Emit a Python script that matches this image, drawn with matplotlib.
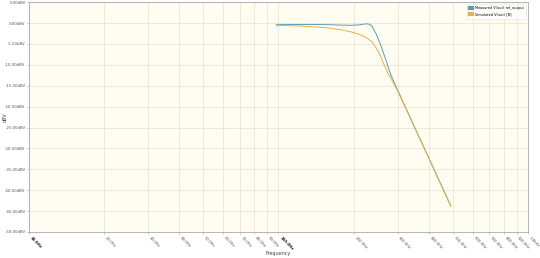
import numpy as np
import matplotlib
matplotlib.use("Agg")
import matplotlib.pyplot as plt
from matplotlib.ticker import FixedLocator, NullLocator

# Respuesta en frecuencia
freq_a = [98, 120, 140, 160, 177, 195, 210, 224, 232, 238, 248, 257, 270, 282,
          300, 330, 360, 400, 440, 490]
dbv_a = [-0.4, -0.35, -0.35, -0.4, -0.5, -0.55, -0.45, -0.2, -0.3, -0.9, -3.0,
         -5.3, -9.0, -12.4, -16.0, -21.4, -26.3, -32.2, -37.6, -43.7]

freq_b = [98, 120, 147, 160, 177, 195, 213, 225, 238, 249, 257, 264, 277,
          300, 330, 360, 400, 440, 490]
dbv_b = [-0.55, -0.7, -1.0, -1.2, -1.6, -2.1, -2.8, -3.5, -4.6, -6.5, -8.0,
         -9.8, -12.4, -16.2, -21.5, -26.4, -32.3, -37.7, -43.8]

label_a = "Measured V(out) ref_output"
label_b = "Simulated V(out) [B]"

x_ticks = [10, 20, 30, 40, 50, 60, 70, 80, 90, 100, 200, 300, 400, 500,
           600, 700, 800, 900, 1000]
x_tick_labels = ["10.0Hz", "20.0Hz", "30.0Hz", "40.0Hz", "50.0Hz", "60.0Hz",
                 "70.0Hz", "80.0Hz", "90.0Hz", "100.0Hz", "200.0Hz", "300.0Hz",
                 "400.0Hz", "500.0Hz", "600.0Hz", "700.0Hz", "800.0Hz",
                 "900.0Hz", "1.0kHz"]
y_ticks = [5, 0, -5, -10, -15, -20, -25, -30, -35, -40, -45, -50]

fig = plt.figure(figsize=(5.4, 2.58), dpi=100)
ax = fig.add_axes([0.0537, 0.1008, 0.924, 0.891])
ax.set_facecolor('#fffdf1')

ax.plot(freq_a, dbv_a, color='#5a9eb2', lw=0.7, label=label_a)
ax.plot(freq_b, dbv_b, color='#e6b04c', lw=0.7, label=label_b)

ax.set_xscale('log')
ax.set_xlim(10, 1000)
ax.set_ylim(-50, 5)
ax.xaxis.set_major_locator(FixedLocator(x_ticks))
ax.xaxis.set_minor_locator(NullLocator())
ax.set_xticklabels(x_tick_labels, rotation=-45, ha='left', fontsize=2.8,
                   color='#555555')
for t in ax.get_xticklabels():
    if t.get_text() in ("10.0Hz", "100.0Hz"):
        t.set_fontweight('bold')
        t.set_color('#222222')
ax.set_yticks(y_ticks)
ax.set_yticklabels([f"{v:.2f}dBV" for v in y_ticks], fontsize=2.8,
                   color='#555555')
ax.tick_params(length=1.5, width=0.4, color='#999999', pad=1)

ax.grid(True, color='#ebe7d3', lw=0.6)
for s in ax.spines.values():
    s.set_color('#aaaaaa')
    s.set_linewidth(0.6)

ax.set_xlabel('Frequency', fontsize=3.5, color='#444444')
ax.set_ylabel('dBV', fontsize=3.5, color='#444444')
ax.xaxis.set_label_coords(0.5, -0.083)
ax.yaxis.set_label_coords(-0.042, 0.5)

leg = ax.legend(loc='upper right', fontsize=2.5, handlelength=0.8,
                handleheight=0.8, frameon=True, fancybox=False,
                borderpad=0.6, labelspacing=0.8)
leg.get_frame().set_edgecolor('#dddddd')
leg.get_frame().set_linewidth(0.4)
for h in leg.legend_handles:
    h.set_linewidth(3)

fig.savefig('out.png', dpi=100)
